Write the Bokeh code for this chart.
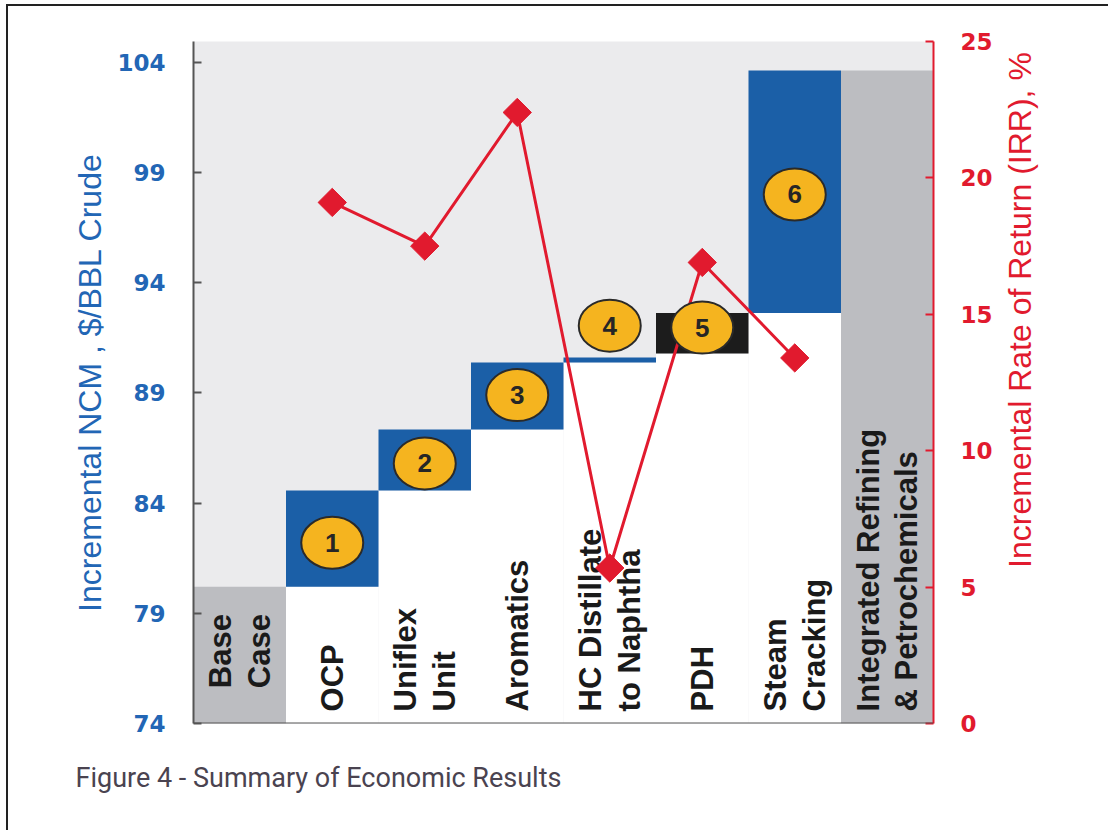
import math
from bokeh.plotting import figure
from bokeh.layouts import row
from bokeh.models import (FactorRange, Range1d, LinearAxis, FixedTicker, Title, Span)
from bokeh.core.properties import value
from bokeh.embed import file_html
from bokeh.resources import INLINE

# ---------------- data ----------------
categories = ["Base Case", "OCP", "Uniflex Unit", "Aromatics",
              "HC Distillate to Naphtha", "PDH", "Steam Cracking",
              "Integrated Refining & Petrochemicals"]
category_labels = ["Base\nCase", "OCP", "Uniflex\nUnit", "Aromatics",
                   "HC Distillate\nto Naphtha", "PDH", "Steam\nCracking",
                   "Integrated Refining\n& Petrochemicals"]
bar_bottom = [74.0, 80.2, 84.57, 87.34, 90.38, 90.78, 92.62, 74.0]
bar_top = [80.2, 84.57, 87.34, 90.38, 90.6, 92.62, 103.63, 103.63]
bar_kind = ["total", "step", "step", "step", "step", "highlight", "step", "total"]

irr_categories = ["OCP", "Uniflex Unit", "Aromatics",
                  "HC Distillate to Naphtha", "PDH", "Steam Cracking"]
irr_values = [19.1, 17.5, 22.4, 5.7, 16.9, 13.4]

step_numbers = ["1", "2", "3", "4", "5", "6"]
step_badge_ncm = [82.2, 85.8, 88.9, 92.05, 91.96, 98.0]

ncm_ticks = [74, 79, 84, 89, 94, 99, 104]
irr_ticks = [0, 5, 10, 15, 20, 25]

left_title = "Incremental NCM , $/BBL Crude"
right_title = "Incremental Rate of Return (IRR), %"
caption_text = "Figure 4 - Summary of Economic Results"

# ---------------- styles ----------------
BLUE = "#1b5fa7"
GRAY = "#bcbdc1"
BLACK = "#1c1c1c"
BG = "#ebebed"
RED = "#e11a2e"
AXBLUE = "#2266b5"
GOLD = "#f5b41f"
kind_color = {"total": GRAY, "step": BLUE, "highlight": BLACK}

W_MAIN, W_SIDE, H = 995, 105, 824
TOP, BOTTOM, LEFT = 35, 107, 185

YMIN, YMAX = 74, 104.94
p = figure(width=W_MAIN, height=H,
           x_range=FactorRange(*categories, range_padding=0),
           y_range=Range1d(YMIN, YMAX),
           output_backend="svg", toolbar_location=None,
           min_border_left=LEFT, min_border_right=70,
           min_border_top=TOP, min_border_bottom=BOTTOM)
p.background_fill_color = BG
p.border_fill_color = "white"
p.outline_line_color = None
p.grid.visible = False
p.extra_y_ranges = {"irr": Range1d(0, 25)}

# white base under each floating bar
p.vbar(x=categories, bottom=[YMIN] * len(categories), top=bar_bottom,
       width=1.0, fill_color="white", line_color=None)
# bars
p.vbar(x=categories, bottom=bar_bottom, top=bar_top, width=1.0,
       fill_color=[kind_color[k] for k in bar_kind], line_color=None)

# category labels (vertical, inside plot)
label_base = [75.6 if c == "Base Case" else 74.55 for c in categories]
p.text(x=categories, y=label_base, text=category_labels, angle=math.pi / 2,
       text_align="left", text_baseline="middle",
       text_font=value("Liberation Sans"), text_font_style="bold",
       text_font_size="31px", text_color="#1a1a1a", text_line_height=1.1)

# IRR line
p.line(x=irr_categories, y=irr_values, y_range_name="irr",
       line_color=RED, line_width=3)
p.scatter(x=irr_categories, y=irr_values, y_range_name="irr",
          marker="square", angle=math.pi / 4, size=20,
          fill_color=RED, line_color=RED)

# numbered badges
p.ellipse(x=irr_categories, y=step_badge_ncm, width=62, height=52,
          width_units="screen", height_units="screen",
          fill_color=GOLD, line_color="#2a2a2a", line_width=2)
p.text(x=irr_categories, y=step_badge_ncm, text=step_numbers,
       text_align="center", text_baseline="middle",
       text_font=value("Liberation Sans"), text_font_style="bold",
       text_font_size="26px", text_color="#262626")

# axes
p.xaxis.visible = False
p.add_layout(Span(location=YMIN, dimension="width",
                  line_color="#555555", line_width=2))

ly = p.yaxis[0]
ly.ticker = FixedTicker(ticks=ncm_ticks)
ly.axis_line_color = "#555555"
ly.axis_line_width = 2
ly.major_tick_in = 8
ly.major_tick_out = 0
ly.major_tick_line_color = "#555555"
ly.major_tick_line_width = 2
ly.minor_tick_line_color = None
ly.major_label_standoff = 28
ly.major_label_text_font = "DejaVu Sans"
ly.major_label_text_font_style = "bold"
ly.major_label_text_font_size = "23px"
ly.major_label_text_color = AXBLUE
ly.axis_label = left_title
ly.axis_label_text_font = "Liberation Sans"
ly.axis_label_text_font_style = "normal"
ly.axis_label_text_font_size = "32px"
ly.axis_label_text_color = AXBLUE
ly.axis_label_standoff = 6

ry = LinearAxis(y_range_name="irr", ticker=FixedTicker(ticks=irr_ticks))
ry.axis_line_color = RED
ry.axis_line_width = 2
ry.major_tick_in = 8
ry.major_tick_out = 0
ry.major_tick_line_color = RED
ry.major_tick_line_width = 2
ry.minor_tick_line_color = None
ry.major_label_standoff = 27
ry.major_label_text_font = "DejaVu Sans"
ry.major_label_text_font_style = "bold"
ry.major_label_text_font_size = "23px"
ry.major_label_text_color = RED
p.add_layout(ry, "right")

caption = Title(text=caption_text, align="left",
                offset=-118, standoff=72,
                text_font="Roboto", text_font_size="27px",
                text_font_style="normal", text_color="#4a4350")
p.add_layout(caption, "below")

# side strip carrying the right-hand axis title (reads bottom-to-top)
side = figure(width=W_SIDE, height=H,
              x_range=Range1d(0, W_SIDE), y_range=Range1d(0, H),
              output_backend="svg", toolbar_location=None,
              min_border=0)
side.axis.visible = False
side.grid.visible = False
side.outline_line_color = None
side.background_fill_color = "white"
side.border_fill_color = "white"
title_start = 188  # pixels above the bottom of the strip
side.text(x=[16], y=[title_start], text=[right_title], angle=math.pi / 2,
          text_align="left", text_baseline="middle",
          text_font=value("Liberation Sans"), text_font_size="32px",
          text_color=RED)

layout = row(p, side)
layout.spacing = 0
layout.margin = (4, 0, 0, 6)
layout.styles = {"border-left": "2px solid #222", "border-top": "2px solid #222"}

open("out.html", "w").write(file_html(layout, INLINE))
